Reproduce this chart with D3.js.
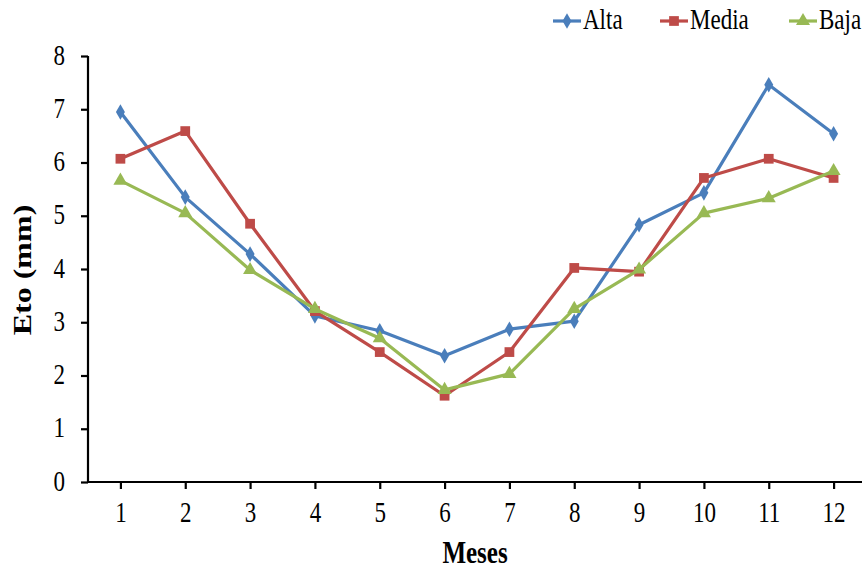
<!DOCTYPE html>
<html>
<head>
<meta charset="utf-8">
<script src="https://cdn.jsdelivr.net/npm/d3@7"></script>
<style>
	body { margin: 0; background: #fff; }
	text { font-family: "Liberation Serif", "DejaVu Serif", serif; fill: #000; }
</style>
</head>
<body>
<div id="chart"></div>
<script>
var months = [1, 2, 3, 4, 5, 6, 7, 8, 9, 10, 11, 12];
var alta = [6.95, 5.35, 4.28, 3.12, 2.84, 2.37, 2.87, 3.02, 4.83, 5.43, 7.46, 6.54];
var media = [6.07, 6.59, 4.85, 3.21, 2.44, 1.62, 2.44, 4.02, 3.95, 5.71, 6.07, 5.71];
var baja = [5.66, 5.05, 3.98, 3.25, 2.70, 1.73, 2.03, 3.25, 3.99, 5.05, 5.33, 5.84];
var yTicks = [0, 1, 2, 3, 4, 5, 6, 7, 8];
var seriesNames = ["Alta", "Media", "Baja"];

var Chart = (function () {
	var width = 862, height = 571;
	var left = 88, right = 866, top = 56, bottom = 482;
	var stretch = 1.28;

	var series = [
		{ name: seriesNames[0], values: alta, color: "#4a7ebb", symbol: d3.symbolDiamond, size: 70, legendX: 553 },
		{ name: seriesNames[1], values: media, color: "#be4b48", symbol: d3.symbolSquare, size: 95, legendX: 660 },
		{ name: seriesNames[2], values: baja, color: "#98b954", symbol: d3.symbolTriangle, size: 85, legendX: 789 }
	];

	function Chart() {
	}

	function stretchText(sel, x, y) {
		sel.attr("x", 0).attr("y", 0).attr("dy", null)
			.attr("transform", "translate(" + x + "," + y + ") scale(1," + stretch + ")");
	}

	Chart.draw = function (elementId) {
		var svg = d3.select("#" + elementId).append("svg")
			.attr("width", width)
			.attr("height", height);

		var x = d3.scaleLinear().domain([0.5, 12.5]).range([left, right]);
		var y = d3.scaleLinear().domain([0, 8]).range([bottom, top]);

		// y axis
		var yAxis = svg.append("g")
			.attr("transform", "translate(" + left + ",0)")
			.call(d3.axisLeft(y).tickValues(yTicks).tickSize(7).tickSizeOuter(0));
		yAxis.select(".domain").attr("stroke", "#000").attr("stroke-width", 2.2).attr("d", "M0," + top + "V" + bottom);
		yAxis.selectAll(".tick line").attr("stroke", "#000").attr("stroke-width", 2.2);
		yAxis.selectAll(".tick text")
			.attr("font-size", 23)
			.attr("text-anchor", "end")
			.each(function () { stretchText(d3.select(this), -23, 8); });

		// x axis
		var xAxis = svg.append("g")
			.attr("transform", "translate(0," + bottom + ")")
			.call(d3.axisBottom(x).tickValues(months).tickSize(7).tickSizeOuter(0));
		xAxis.select(".domain").attr("stroke", "#000").attr("stroke-width", 2.2).attr("d", "M" + (left - 1) + ",0H" + right);
		xAxis.selectAll(".tick line").attr("stroke", "#000").attr("stroke-width", 2.2);
		xAxis.selectAll(".tick text")
			.attr("font-size", 23)
			.attr("text-anchor", "middle")
			.each(function () { stretchText(d3.select(this), 0, 40); });

		// axis titles
		svg.append("text")
			.attr("font-size", 25)
			.attr("font-weight", "bold")
			.attr("text-anchor", "middle")
			.attr("transform", "translate(31,270) rotate(-90) scale(" + stretch + ",1)")
			.text("Eto (mm)");

		svg.append("text")
			.attr("font-size", 25)
			.attr("font-weight", "bold")
			.attr("text-anchor", "middle")
			.attr("transform", "translate(475,563) scale(1," + stretch + ")")
			.text("Meses");

		// lines and markers
		var line = d3.line()
			.x(function (d, i) { return x(months[i]); })
			.y(function (d) { return y(d); });

		series.forEach(function (s) {
			svg.append("path")
				.datum(s.values)
				.attr("fill", "none")
				.attr("stroke", s.color)
				.attr("stroke-width", 3.2)
				.attr("stroke-linejoin", "round")
				.attr("d", line);

			svg.append("g")
				.selectAll("path")
				.data(s.values)
				.enter()
					.append("path")
						.attr("fill", s.color)
						.attr("transform", function (d, i) { return "translate(" + x(months[i]) + "," + y(d) + ")"; })
						.attr("d", d3.symbol().type(s.symbol).size(s.size));
		});

		// legend
		var legend = svg.append("g");
		series.forEach(function (s) {
			var ly = 21;
			legend.append("line")
				.attr("x1", s.legendX).attr("x2", s.legendX + 28)
				.attr("y1", ly).attr("y2", ly)
				.attr("stroke", s.color)
				.attr("stroke-width", 3.2);
			legend.append("path")
				.attr("fill", s.color)
				.attr("transform", "translate(" + (s.legendX + 14) + "," + ly + ")")
				.attr("d", d3.symbol().type(s.symbol).size(s.size));
			legend.append("text")
				.attr("font-size", 23)
				.attr("transform", "translate(" + (s.legendX + 30) + "," + (ly + 8) + ") scale(1," + stretch + ")")
				.text(s.name);
		});
	};

	return Chart;
})();

Chart.draw("chart");
</script>
</body>
</html>
